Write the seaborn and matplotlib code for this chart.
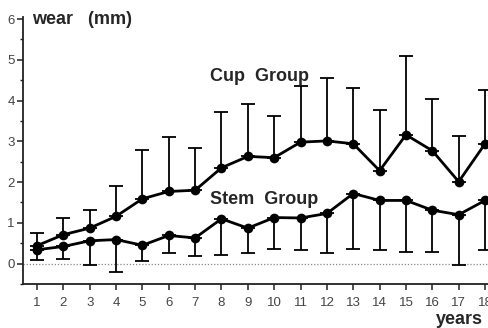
import numpy as np
import pandas as pd
import seaborn as sns
import matplotlib.pyplot as plt
from matplotlib.ticker import MultipleLocator

years = list(range(1, 19))
cup_wear = [0.44, 0.71, 0.87, 1.16, 1.59, 1.77, 1.80, 2.35, 2.63, 2.60,
            2.98, 3.01, 2.94, 2.28, 3.16, 2.77, 2.01, 2.94]
cup_sd = [0.31, 0.40, 0.45, 0.74, 1.20, 1.33, 1.04, 1.36, 1.29, 1.03,
          1.37, 1.55, 1.37, 1.49, 1.94, 1.27, 1.13, 1.31]
stem_wear = [0.34, 0.42, 0.56, 0.59, 0.45, 0.69, 0.63, 1.10, 0.87, 1.13,
             1.12, 1.23, 1.72, 1.55, 1.55, 1.31, 1.20, 1.55]
stem_sd = [0.24, 0.30, 0.60, 0.79, 0.38, 0.44, 0.45, 0.90, 0.61, 0.77,
           0.79, 0.97, 1.36, 1.22, 1.26, 1.02, 1.23, 1.22]

sns.set_style('ticks')
plt.rcParams['font.family'] = ['Liberation Sans', 'DejaVu Sans']

df = pd.DataFrame({
    'year': years * 2,
    'wear': cup_wear + stem_wear,
    'group': ['Cup'] * 18 + ['Stem'] * 18,
})

fig = plt.figure(figsize=(4.89, 3.28), dpi=100)
ax = fig.add_axes([23 / 489, 1 - 284 / 328, 1 - 23 / 489, (284 - 17) / 328])

# zero reference line
ax.axhline(0, color='#888888', lw=0.9, ls=(0, (1, 1.5)), zorder=1)

# error bars: cup upward, stem downward
zeros = np.zeros(len(years))
ax.errorbar(years, cup_wear, yerr=[zeros, cup_sd], fmt='none', ecolor='black',
            elinewidth=1.3, capsize=5, capthick=1.3, zorder=2)
ax.errorbar(years, stem_wear, yerr=[stem_sd, zeros], fmt='none', ecolor='black',
            elinewidth=1.3, capsize=5, capthick=1.3, zorder=2)

sns.lineplot(data=df, x='year', y='wear', hue='group', palette=['black', 'black'],
             marker='o', markersize=7, markeredgewidth=0, linewidth=2,
             legend=False, ax=ax, zorder=3)

ax.set_xlim(0.47, 18.15)
ax.set_ylim(-0.5, 6.05)
ax.set_xticks(years)
ax.set_yticks(range(0, 7))
ax.yaxis.set_minor_locator(MultipleLocator(0.5))
ax.set_xlabel('')
ax.set_ylabel('')

sns.despine(ax=ax)
for s in ['left', 'bottom']:
    ax.spines[s].set_linewidth(1.3)
    ax.spines[s].set_color('#222222')
ax.tick_params(axis='both', which='major', length=4, width=1.1, labelsize=9.5,
               colors='#222222', labelcolor='#444444', pad=2)
ax.tick_params(axis='y', which='minor', length=2, width=1, colors='#222222')
ax.tick_params(axis='x', pad=5)

ax.text(7.58, 4.58, 'Cup  Group', fontsize=13, fontweight='bold', ha='left', va='center')
ax.text(7.58, 1.57, 'Stem  Group', fontsize=13, fontweight='bold', ha='left', va='center')

fig.text(32 / 489, 1 - 20 / 328, 'wear   (mm)', fontsize=13, fontweight='bold',
         ha='left', va='center')
fig.text(436 / 489, 1 - 319 / 328, 'years', fontsize=13, fontweight='bold',
         ha='left', va='center')

fig.savefig('out.png', dpi=100)
